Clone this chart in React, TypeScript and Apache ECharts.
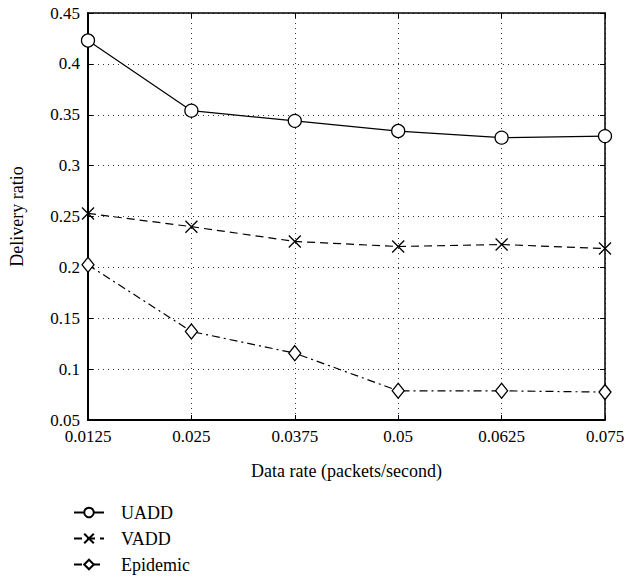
import React, { useEffect, useRef } from "react";
import * as echarts from "echarts";

const dataRates = [0.0125, 0.025, 0.0375, 0.05, 0.0625, 0.075];
const uadd = [0.423, 0.354, 0.344, 0.334, 0.3275, 0.329];
const vadd = [0.253, 0.24, 0.2255, 0.2205, 0.2225, 0.2185];
const epidemic = [0.2025, 0.137, 0.1157, 0.0787, 0.0787, 0.0774];
const seriesNames = ["UADD", "VADD", "Epidemic"];

const FONT = "Liberation Serif";
const fmt = (v: number) => String(parseFloat(Number(v).toFixed(4)));

export default function App() {
  const ref = useRef<HTMLDivElement>(null);
  useEffect(() => {
    if (!ref.current) return;
    const chart = echarts.init(ref.current, undefined, { renderer: "svg" });
    const pair = (ys: number[]) => dataRates.map((x, i) => [x, ys[i]]);
    const axisCommon = {
      axisLine: { show: true, lineStyle: { color: "#000", width: 1.5 } },
      axisTick: { show: true, inside: true, length: 5, lineStyle: { color: "#000", width: 1 } },
    };
    chart.setOption({
      animation: false,
      backgroundColor: "#fff",
      textStyle: { fontFamily: FONT },
      grid: { left: 88, right: 23, top: 13, bottom: 162 },
      legend: {
        orient: "vertical",
        left: 73,
        top: 503,
        padding: 0,
        itemWidth: 30,
        itemHeight: 12,
        itemGap: 7,
        data: seriesNames,
        textStyle: { fontFamily: FONT, fontSize: 18, lineHeight: 19, color: "#000", padding: [0, 0, 0, 12] },
      },
      xAxis: [
        {
          type: "value",
          min: 0.0125,
          max: 0.075,
          interval: 0.0125,
          name: "Data rate (packets/second)",
          nameLocation: "middle",
          nameGap: 42,
          nameTextStyle: { fontFamily: FONT, fontSize: 18, color: "#000" },
          ...axisCommon,
          axisLine: { show: true, lineStyle: { color: "#000", width: 2 } },
          axisLabel: { formatter: fmt, fontFamily: FONT, fontSize: 17, color: "#000", margin: 8 },
          splitLine: { show: true, lineStyle: { type: [1, 4], color: "#333", width: 1 } },
        },
        {
          type: "value",
          position: "top",
          min: 0.0125,
          max: 0.075,
          interval: 0.0125,
          ...axisCommon,
          axisLabel: { show: false },
          splitLine: { show: false },
        },
      ],
      yAxis: [
        {
          type: "value",
          min: 0.05,
          max: 0.45,
          interval: 0.05,
          name: "Delivery ratio",
          nameLocation: "middle",
          nameGap: 62,
          nameTextStyle: { fontFamily: FONT, fontSize: 18, color: "#000" },
          ...axisCommon,
          axisLine: { show: true, lineStyle: { color: "#000", width: 2 } },
          axisLabel: { formatter: fmt, fontFamily: FONT, fontSize: 17, color: "#000", margin: 8 },
          splitLine: { show: true, lineStyle: { type: [1, 4], color: "#333", width: 1 } },
        },
        {
          type: "value",
          position: "right",
          min: 0.05,
          max: 0.45,
          interval: 0.05,
          ...axisCommon,
          axisLabel: { show: false },
          splitLine: { show: false },
        },
      ],
      series: [
        {
          name: "UADD",
          type: "line",
          data: pair(uadd),
          symbol: "circle",
          symbolSize: 13,
          lineStyle: { color: "#000", width: 1.2, type: "solid" },
          itemStyle: { color: "#fff", borderColor: "#000", borderWidth: 1.3 },
          z: 3,
        },
        {
          name: "VADD",
          type: "line",
          data: pair(vadd),
          symbol: "path://M0,0L10,10M10,0L0,10",
          symbolSize: 12,
          lineStyle: { color: "#000", width: 1.2, type: [8, 5] },
          itemStyle: { color: "none", borderColor: "#000", borderWidth: 1.3 },
          z: 3,
        },
        {
          name: "Epidemic",
          type: "line",
          data: pair(epidemic),
          symbol: "diamond",
          symbolSize: [12, 15],
          lineStyle: { color: "#000", width: 1.2, type: [8, 4, 2, 4] },
          itemStyle: { color: "#fff", borderColor: "#000", borderWidth: 1.3 },
          z: 3,
        },
      ],
    });
    return () => chart.dispose();
  }, []);
  return <div ref={ref} style={{ width: 628, height: 582, position: "absolute", left: 0, top: 0 }} />;
}
